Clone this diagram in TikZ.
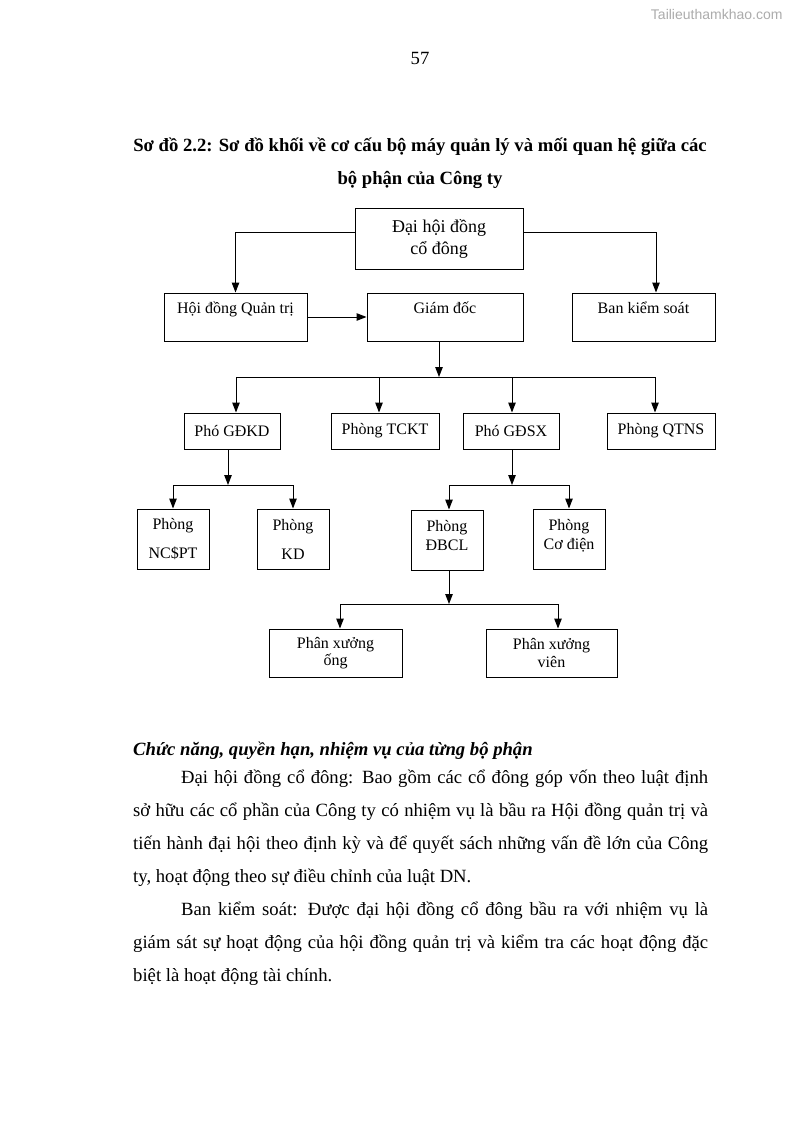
\documentclass[tikz,border=0pt]{standalone}
\usepackage{fontspec}
\setmainfont{Liberation Serif}
\setsansfont{Liberation Sans}
\usetikzlibrary{arrows.meta,positioning}

\tikzset{
  box/.style={
    rectangle, draw, line width=1pt,
    align=center, inner sep=2pt,
    font=\fontsize{16}{19}\selectfont
  },
  topbox/.style={box, text height=18pt, text depth=26pt},
  tallbox/.style={box, font=\fontsize{16}{29}\selectfont},
  line/.style={draw, line width=1pt, -{Triangle[length=10pt,width=7.5pt]}},
  body/.style={anchor=base west, inner sep=0pt, align=left,
    font=\fontsize{18.67}{33}\selectfont},
}

\begin{document}
\begin{tikzpicture}[x=1pt,y=-1pt]
  \useasboundingbox[fill=white] (0,0) rectangle (794,1123);

  % page head
  \node[font=\sffamily\fontsize{14}{16}\selectfont, text=gray!65, anchor=base east]
    (wm) at (786,20) {Tailieuthamkhao.com};
  \node[font=\fontsize{18.67}{22}\selectfont, anchor=base] (pageno) at (420,65) {57};
  \node[font=\bfseries\fontsize{18.67}{33}\selectfont, align=center, anchor=base]
    (title) at (420,185) {Sơ đồ 2.2: Sơ đồ khối về cơ cấu bộ máy quản lý và mối quan hệ giữa các\\
    bộ phận của Công ty};

  % boxes
  \node[box, font=\fontsize{18}{22}\selectfont, minimum width=168pt, minimum height=60pt]
    (dhdcd) at (439,239) {Đại hội đồng\\ cổ đông};
  \node[topbox, minimum width=143pt] (hdqt) at (235.5,317) {Hội đồng Quản trị};
  \node[topbox, minimum width=156pt] (gd) at (445,317) {Giám đốc};
  \node[topbox, minimum width=143pt] (bks) at (643.5,317) {Ban kiểm soát};

  \node[box, minimum width=96pt, minimum height=36pt] (pgdkd) at (232,431) {Phó GĐKD};
  \node[box, minimum width=108pt, minimum height=36pt] (tckt) at (385,431) {Phòng TCKT};
  \node[box, minimum width=96pt, minimum height=36pt] (pgdsx) at (511,431) {Phó GĐSX};
  \node[box, minimum width=108pt, minimum height=36pt] (qtns) at (661,431) {Phòng QTNS};

  \node[tallbox, minimum width=72pt, minimum height=60pt] (ncpt) at (173,539) {Phòng\\ NC\$PT};
  \node[tallbox, minimum width=72pt, minimum height=60pt] (kd) at (293,539) {Phòng\\ KD};
  \node[box, minimum width=72pt, minimum height=60pt, text depth=10pt] (dbcl) at (447,540) {Phòng\\ ĐBCL};
  \node[box, minimum width=72pt, minimum height=60pt, text depth=10pt] (cd) at (569,539) {Phòng\\ Cơ điện};

  \node[box, font=\fontsize{16}{17.5}\selectfont, minimum width=133pt, minimum height=48pt]
    (pxo) at (335.5,653) {Phân xưởng\\ ống};
  \node[box, font=\fontsize{16}{17.5}\selectfont, minimum width=131pt, minimum height=48pt]
    (pxv) at (551.5,653) {Phân xưởng\\ viên};

  % bus points
  \coordinate (bus1) at (439,377);
  \coordinate (bus2) at (228,485);
  \coordinate (bus3) at (512,485);
  \coordinate (bus4) at (449,604);

  % connectors
  \draw[line] ([yshift=6pt]dhdcd.west) -| (hdqt.north);
  \draw[line] ([yshift=6pt]dhdcd.east) -| ([xshift=12.5pt]bks.north);
  \draw[line] (hdqt.east) -- (gd.west);

  \draw[line] (gd.south -| bus1) -- (bus1);
  \draw[line] (bus1) -| ([xshift=4pt]pgdkd.north);
  \draw[line] (bus1) -| ([xshift=-6pt]tckt.north);
  \draw[line] (bus1) -| ([xshift=1pt]pgdsx.north);
  \draw[line] (bus1) -| ([xshift=-6pt]qtns.north);

  \draw[line] (pgdkd.south -| bus2) -- (bus2);
  \draw[line] (bus2) -| (ncpt.north);
  \draw[line] (bus2) -| (kd.north);

  \draw[line] (pgdsx.south -| bus3) -- (bus3);
  \draw[line] (bus3) -| ([xshift=2pt]dbcl.north);
  \draw[line] (bus3) -| (cd.north);

  \draw[line] (dbcl.south -| bus4) -- (bus4);
  \draw[line] (bus4) -| ([xshift=4.5pt]pxo.north);
  \draw[line] (bus4) -| ([xshift=6.5pt]pxv.north);

  % text below the chart
  \node[body, font=\bfseries\itshape\fontsize{18.67}{33}\selectfont] (head) at (133,755)
    {Chức năng, quyền hạn, nhiệm vụ của từng bộ phận};
  \node[body] (par1) at (133,882)
    {\hspace*{48pt}\makebox[527pt][s]{Đại hội đồng cổ đông: Bao gồm các cổ đông góp vốn theo luật định}\\
     \makebox[575pt][s]{sở hữu các cổ phần của Công ty có nhiệm vụ là bầu ra Hội đồng quản trị và}\\
     \makebox[575pt][s]{tiến hành đại hội theo định kỳ và để quyết sách những vấn đề lớn của Công}\\
     ty, hoạt động theo sự điều chỉnh của luật DN.};
  \node[body] (par2) at (133,981)
    {\hspace*{48pt}\makebox[527pt][s]{Ban kiểm soát: Được đại hội đồng cổ đông bầu ra với nhiệm vụ là}\\
     \makebox[575pt][s]{giám sát sự hoạt động của hội đồng quản trị và kiểm tra các hoạt động đặc}\\
     biệt là hoạt động tài chính.};
\end{tikzpicture}
\end{document}
